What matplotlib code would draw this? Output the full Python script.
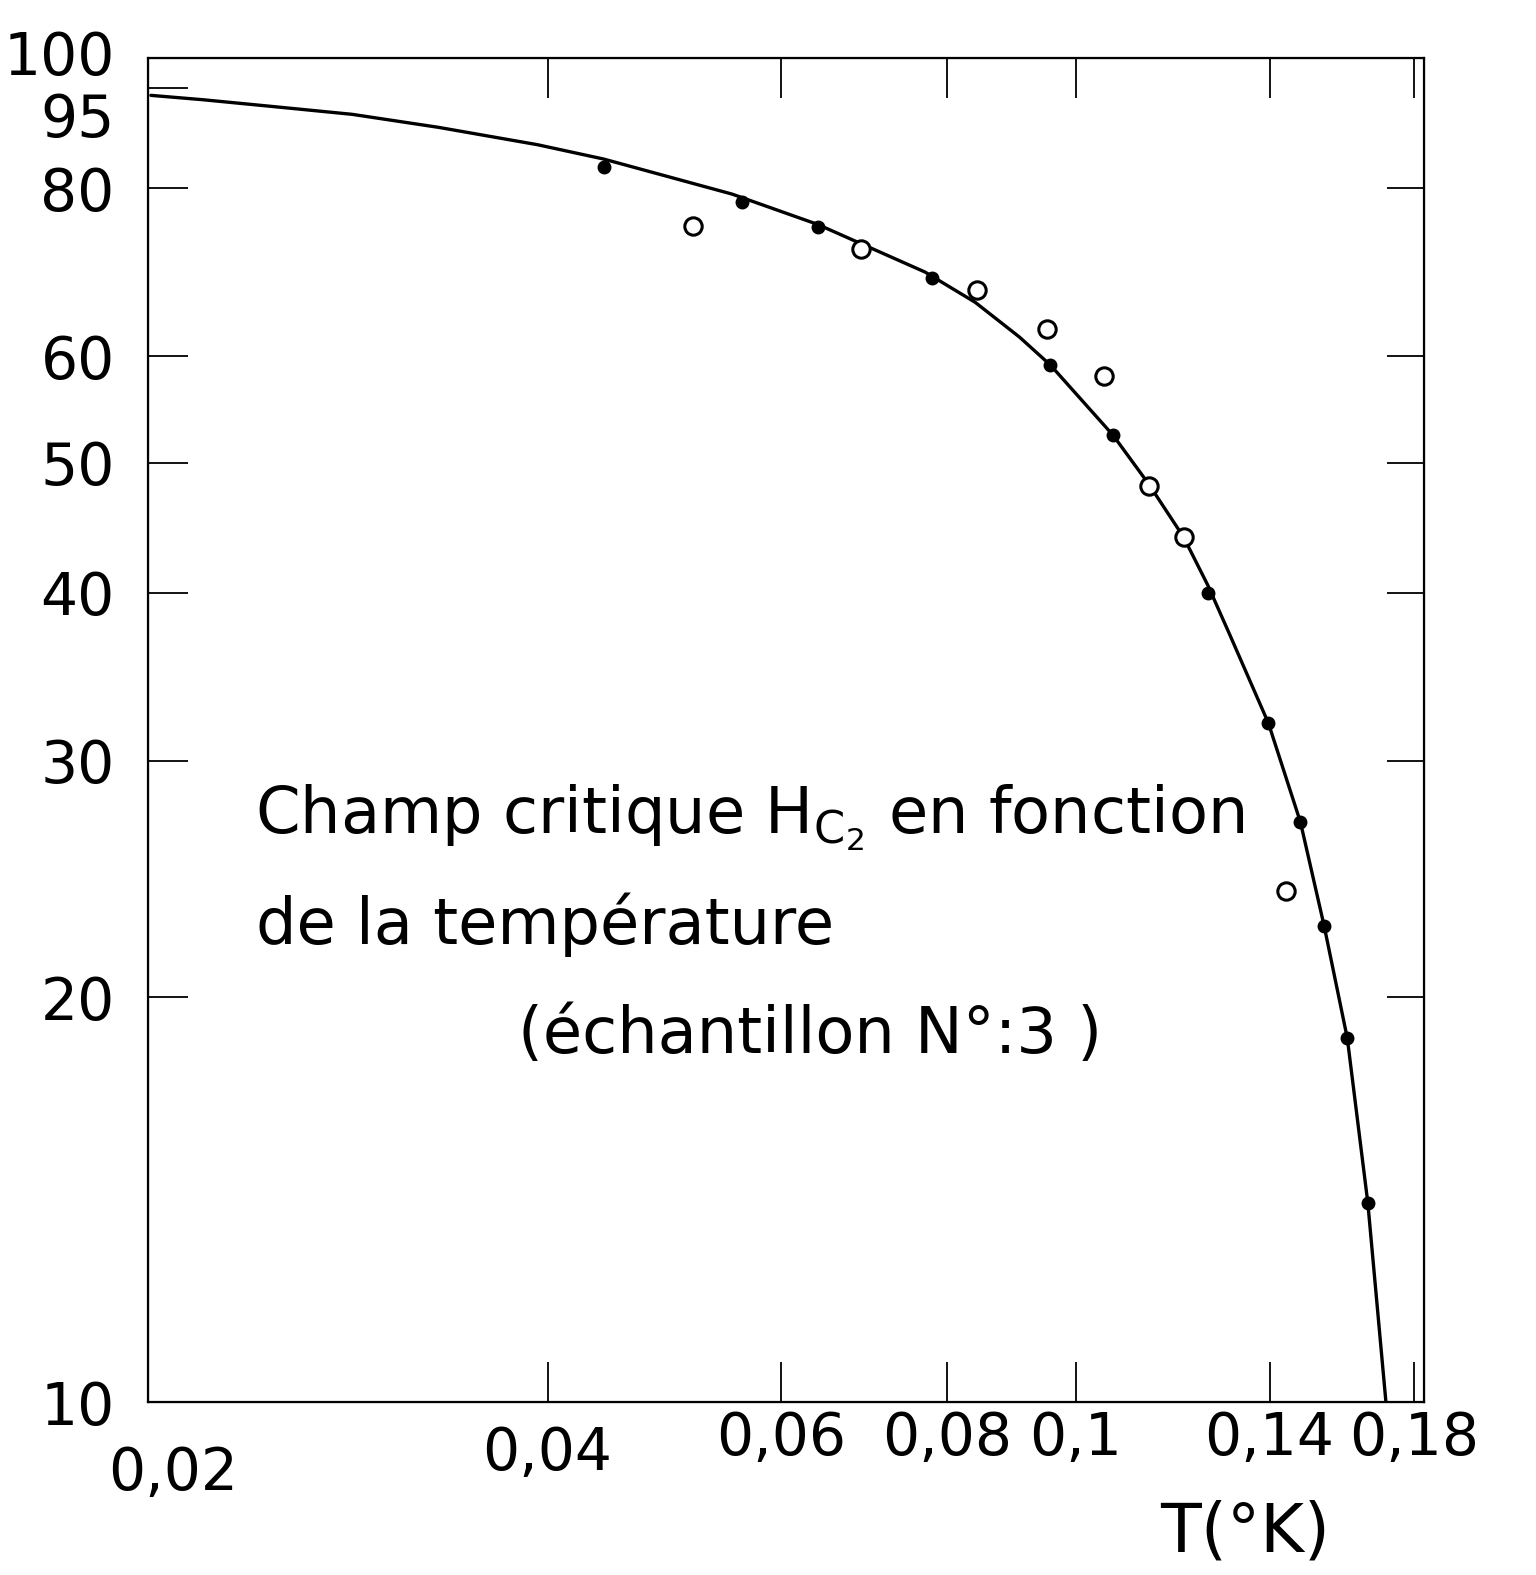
import matplotlib.pyplot as plt
import matplotlib.transforms as mtransforms

# courbe tracee : H_c2 en fonction de T (K)
curve_t = [0.0201, 0.0220, 0.0249, 0.0285, 0.0331, 0.0393, 0.0441, 0.0551, 0.0639, 0.0770, 0.0840,
           0.0907, 0.0957, 0.1067, 0.1135, 0.1206, 0.1258, 0.1307, 0.1397, 0.1477, 0.1539, 0.1602,
           0.1660, 0.1713]
curve_h = [93.8, 93.1, 92.0, 90.8, 88.8, 86.2, 84.1, 79.2, 75.2, 69.3, 65.8,
           62.0, 59.1, 52.4, 48.2, 44.0, 40.5, 37.2, 32.0, 27.0, 22.6, 18.65,
           14.07, 10.0]

# points pleins
full_t = [0.0441, 0.0561, 0.0639, 0.0779, 0.0957, 0.1067, 0.1258, 0.1397, 0.1477, 0.1539, 0.1602, 0.1660]
full_h = [83.0, 78.1, 74.9, 68.6, 59.1, 52.4, 40.0, 32.0, 27.0, 22.6, 18.65, 14.07]

# points ouverts
open_t = [0.0515, 0.0689, 0.0843, 0.0951, 0.1051, 0.1135, 0.1206, 0.1441]
open_h = [75.0, 72.1, 67.2, 62.9, 58.0, 48.0, 44.0, 24.0]

xticks = [0.02, 0.04, 0.06, 0.08, 0.1, 0.14, 0.18]
xtick_labels = ['0,02', '0,04', '0,06', '0,08', '0,1', '0,14', '0,18']
yticks = [10, 20, 30, 40, 50, 60, 80, 95, 100]
ytick_labels = ['10', '20', '30', '40', '50', '60', '80', '95', '100']
right_ticks = [20, 30, 40, 50, 60, 80]

fig = plt.figure(figsize=(15.36, 15.75), dpi=100)
ax = fig.add_axes([148 / 1536, 1 - 1402 / 1575, 1276 / 1536, 1344 / 1575])
ax.set_xscale('log')
ax.set_yscale('log')

ax.plot(curve_t, curve_h, color='black', lw=2.4, solid_capstyle='round', solid_joinstyle='round')
ax.plot(full_t, full_h, 'o', color='black', ms=9)
ax.plot(open_t, open_h, 'o', mfc='white', mec='black', mew=2.2, ms=12.5)

ax.set_xlim(0.02, 0.183)
ax.set_ylim(10, 100)
ax.set_xticks(xticks, xtick_labels)
ax.set_yticks(yticks, ytick_labels)
ax.minorticks_off()
ax.tick_params(axis='both', which='major', direction='in', length=29, width=1.3,
               labelsize=42, top=True, right=False)
ax.tick_params(axis='x', pad=6)
ax.tick_params(axis='y', pad=24)
for s in ax.spines.values():
    s.set_linewidth(1.6)

# graduations de droite (sans 95)
ax2 = ax.twinx()
ax2.set_yscale('log')
ax2.set_ylim(10, 100)
ax2.set_yticks(right_ticks, [''] * len(right_ticks))
ax2.minorticks_off()
ax2.tick_params(axis='y', direction='in', length=27, width=1.3)

# petits decalages des etiquettes comme sur l'original
def shift(label, dx, dy):
    label.set_transform(label.get_transform() +
                        mtransforms.ScaledTranslation(dx / 100, dy / 100, fig.dpi_scale_trans))

xl = ax.get_xticklabels()
shift(xl[0], 25, -35)
shift(xl[1], 0, -15)
yl = ax.get_yticklabels()
shift(yl[7], 0, -27)
shift(yl[8], 0, 6)

ax.text(0.084, 0.435, r'Champ critique $\mathregular{H_{C_2}}$ en fonction', transform=ax.transAxes,
        fontsize=46, ha='left', va='center')
ax.text(0.085, 0.355, 'de la température', transform=ax.transAxes,
        fontsize=46, ha='left', va='center')
ax.text(0.29, 0.273, '(échantillon N°:3 )', transform=ax.transAxes,
        fontsize=46, ha='left', va='center')

ax.text(0.86, -0.097, 'T(°K)', transform=ax.transAxes, fontsize=48, ha='center', va='center')

fig.savefig('out.png', dpi=100, facecolor='white')
